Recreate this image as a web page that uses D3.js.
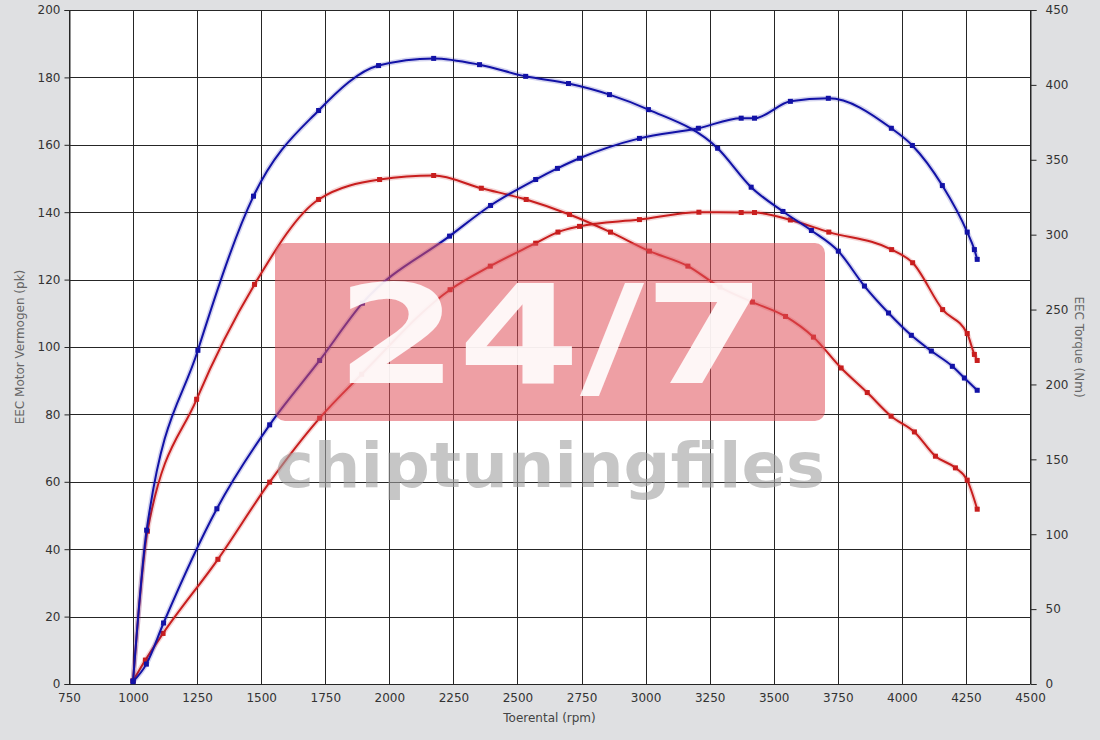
<!DOCTYPE html>
<html>
<head>
<meta charset="utf-8">
<script src="https://cdn.jsdelivr.net/npm/d3@7"></script>
<style>
  html, body { margin: 0; padding: 0; background: #dfe0e2; }
  svg { display: block; }
  text { font-family: "DejaVu Sans", sans-serif; }
</style>
</head>
<body>
<svg id="chart" width="1100" height="740"></svg>
<script>
// ---- Data ----
const xTicks = [750, 1000, 1250, 1500, 1750, 2000, 2250, 2500, 2750, 3000, 3250, 3500, 3750, 4000, 4250, 4500];
const leftTicks = [0, 20, 40, 60, 80, 100, 120, 140, 160, 180, 200];
const rightTicks = [0, 50, 100, 150, 200, 250, 300, 350, 400, 450];

// Tuned power (pk, left axis)
const tunedPowerRpm = [1000, 1052, 1119, 1327, 1533, 1728, 1895, 2235, 2395, 2571, 2656, 2742, 2976, 3206, 3373, 3425, 3565, 3713, 3959, 4041, 4158, 4255, 4283, 4294];
const tunedPower    = [0.7, 5.9, 18.1, 52.0, 76.9, 96.0, 113.0, 132.9, 142.0, 149.7, 153.0, 156.0, 161.9, 164.9, 167.9, 167.9, 172.9, 173.8, 164.9, 159.8, 147.9, 134.1, 128.9, 126.0];

// Tuned torque (Nm, right axis)
const tunedTorqueRpm = [1000, 1053, 1253, 1470, 1724, 1958, 2173, 2352, 2532, 2699, 2859, 3011, 3281, 3412, 3536, 3647, 3752, 3854, 3948, 4037, 4115, 4197, 4244, 4294];
const tunedTorque    = [2, 102.7, 222.8, 325.7, 382.9, 412.9, 417.7, 413.5, 405.7, 400.9, 393.5, 383.5, 357.7, 331.7, 315.5, 302.8, 289.0, 265.7, 247.7, 232.8, 222.3, 212.1, 204.3, 196.1];

// Stock power (pk, left axis)
const stockPowerRpm = [1000, 1048, 1117, 1331, 1533, 1728, 1892, 2237, 2394, 2571, 2658, 2742, 2976, 3208, 3373, 3425, 3565, 3715, 3960, 4042, 4159, 4255, 4283, 4294];
const stockPower    = [0.9, 7.1, 15.0, 37.0, 59.9, 78.9, 91.9, 117.0, 124.0, 130.8, 134.1, 135.8, 137.8, 140.0, 139.9, 139.9, 137.7, 134.1, 128.9, 125.0, 111.1, 104.0, 97.8, 96.0];

// Stock torque (Nm, right axis)
const stockTorqueRpm = [1000, 1056, 1248, 1474, 1724, 1962, 2173, 2359, 2534, 2703, 2863, 3015, 3165, 3290, 3417, 3546, 3655, 3763, 3865, 3958, 4049, 4131, 4209, 4255, 4294];
const stockTorque    = [2, 102.0, 190.1, 266.8, 323.5, 336.8, 339.5, 331.0, 323.5, 313.5, 301.7, 289.0, 279.0, 265.0, 255.0, 245.4, 231.6, 211.0, 194.6, 178.8, 168.3, 152.1, 144.3, 136.1, 116.7];

const xLabel = "Toerental (rpm)";
const yLeftLabel = "EEC Motor Vermogen (pk)";
const yRightLabel = "EEC Torque (Nm)";

// ---- Layout ----
const svg = d3.select("#chart");
const L = 69, R = 1030, T = 10, B = 684;

const x = d3.scaleLinear().domain([750, 4500]).range([L, R]);
const yL = d3.scaleLinear().domain([0, 200]).range([B, T]);
const yR = d3.scaleLinear().domain([0, 450]).range([B, T]);
const snap = v => Math.round(v) + 0.5;

const BLUE = "#1212a6";
const RED = "#c81e1e";

// plot background
svg.append("rect").attr("x", L).attr("y", T).attr("width", R - L).attr("height", B - T).attr("fill", "#ffffff");

// grid
const grid = svg.append("g").attr("stroke", "#262626").attr("stroke-width", 1);
grid.selectAll("line.v").data(xTicks).enter().append("line")
  .attr("x1", d => snap(x(d))).attr("x2", d => snap(x(d))).attr("y1", T).attr("y2", B);
grid.selectAll("line.h").data(leftTicks).enter().append("line")
  .attr("x1", L).attr("x2", R).attr("y1", d => snap(yL(d))).attr("y2", d => snap(yL(d)));

// axes
const fmt = d3.format("d");
const axL = d3.axisLeft(yL).tickValues(leftTicks).tickSize(5).tickPadding(4).tickFormat(fmt);
const axR = d3.axisRight(yR).tickValues(rightTicks).tickSize(6).tickPadding(9).tickFormat(fmt);
const axB = d3.axisBottom(x).tickValues(xTicks).tickSize(0).tickPadding(9).tickFormat(fmt);

function styleAxis(g) {
  g.select(".domain").attr("stroke", "#262626").attr("stroke-width", 1);
  g.selectAll(".tick line").attr("stroke", "#262626");
  g.selectAll(".tick text").attr("fill", "#333").attr("font-size", 12).attr("font-family", "DejaVu Sans, sans-serif");
}
svg.append("g").attr("transform", `translate(${L + 0.5},0)`).call(axL).call(styleAxis);
svg.append("g").attr("transform", `translate(${R + 0.5},0)`).call(axR).call(styleAxis);
svg.append("g").attr("transform", `translate(0,${B})`).call(axB).call(styleAxis).select(".domain").remove();

// axis titles
svg.append("text").attr("x", x(2625)).attr("y", 722).attr("text-anchor", "middle")
  .attr("font-size", 12).attr("fill", "#444").text(xLabel);
svg.append("text").attr("transform", `translate(24,${(T + B) / 2}) rotate(-90)`).attr("text-anchor", "middle")
  .attr("font-size", 12).attr("fill", "#666").text(yLeftLabel);
svg.append("text").attr("transform", `translate(1075,${(T + B) / 2}) rotate(90)`).attr("text-anchor", "middle")
  .attr("font-size", 12).attr("fill", "#666").text(yRightLabel);

// series
const series = [
  { rpm: stockTorqueRpm, vals: stockTorque, y: yR, color: RED },
  { rpm: stockPowerRpm, vals: stockPower, y: yL, color: RED },
  { rpm: tunedTorqueRpm, vals: tunedTorque, y: yR, color: BLUE },
  { rpm: tunedPowerRpm, vals: tunedPower, y: yL, color: BLUE }
];

const plot = svg.append("g");
series.forEach(s => {
  const pts = s.rpm.map((r, i) => [r, s.vals[i]]);
  const line = d3.line().x(d => x(d[0])).y(d => s.y(d[1])).curve(d3.curveMonotoneX);
  plot.append("path").attr("d", line(pts)).attr("fill", "none")
    .attr("stroke", s.color).attr("stroke-opacity", 0.18).attr("stroke-width", 5);
  plot.append("path").attr("d", line(pts)).attr("fill", "none")
    .attr("stroke", s.color).attr("stroke-width", 2);
  plot.selectAll(null).data(pts).enter().append("rect")
    .attr("x", d => x(d[0]) - 2.5).attr("y", d => s.y(d[1]) - 2.5)
    .attr("width", 5).attr("height", 5).attr("fill", s.color);
});

// watermark
const wm = svg.append("g");
wm.append("rect").attr("x", 275).attr("y", 243).attr("width", 550).attr("height", 178)
  .attr("rx", 10).attr("ry", 10).attr("fill", "#e0505a").attr("fill-opacity", 0.55);
wm.append("text").attr("x", 336).attr("y", 383).attr("font-size", 137).attr("font-weight", "bold")
  .attr("fill", "#ffffff").attr("fill-opacity", 0.9)
  .attr("textLength", 430).attr("lengthAdjust", "spacingAndGlyphs").text("24/7");
wm.append("text").attr("x", 275).attr("y", 487).attr("font-size", 62).attr("font-weight", "bold")
  .attr("fill", "#a0a0a0").attr("fill-opacity", 0.6)
  .attr("textLength", 550).attr("lengthAdjust", "spacingAndGlyphs").text("chiptuningfiles");
</script>
</body>
</html>
